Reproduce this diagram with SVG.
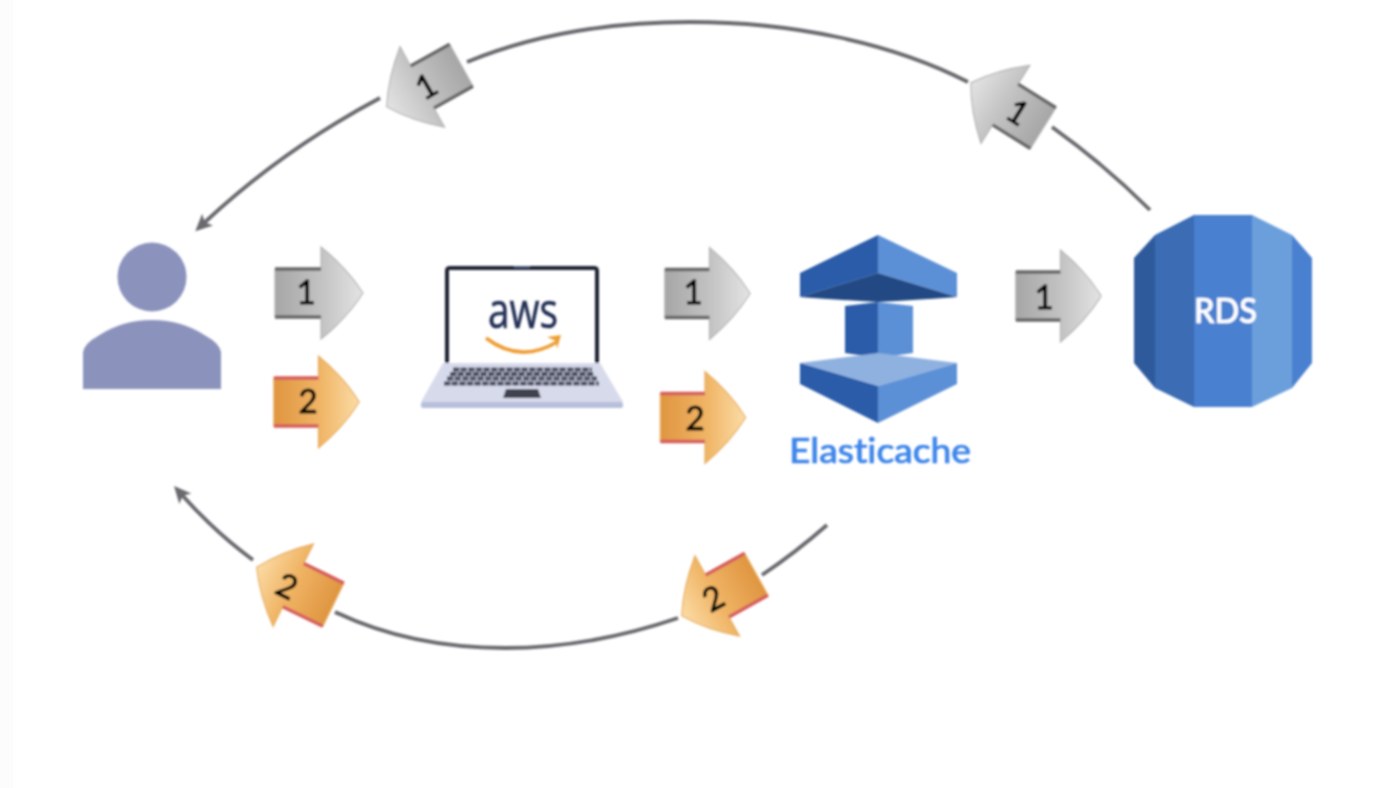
<svg xmlns="http://www.w3.org/2000/svg" xmlns:xlink="http://www.w3.org/1999/xlink" width="1386" height="788" viewBox="0 0 1386 788">
<style>
.conn{fill:none;stroke:#69696e;stroke-width:3.8}
.num{font-family:"Lato","Liberation Sans",sans-serif;font-size:33px;fill:#000;stroke:#000;stroke-width:.9;text-anchor:middle}
.lbl{font-family:"Lato","Liberation Sans",sans-serif;font-size:35px;font-weight:500;stroke-width:.7;text-anchor:middle;font-variant-ligatures:none}
.key{stroke:#45485a;stroke-width:4.2;stroke-dasharray:6.4 1.2;fill:none}
.eL{fill:#2c5ca9}.eR{fill:#5b90d6}
</style>
<defs>
<filter id="soft" x="-2%" y="-2%" width="104%" height="104%"><feGaussianBlur stdDeviation="0.8"/></filter>
<marker id="head" markerUnits="userSpaceOnUse" markerWidth="20" markerHeight="20" refX="5" refY="9" orient="auto"><path d="M0,1 L17,9 L0,17 L4,9 Z" fill="#69696e"/></marker>
<linearGradient id="gGray" gradientUnits="userSpaceOnUse" x1="-44" y1="0" x2="44" y2="0"><stop offset="0" stop-color="#a6a6a6"/><stop offset="0.55" stop-color="#c4c4c4"/><stop offset="1" stop-color="#e4e4e4"/></linearGradient>
<linearGradient id="gOrange" gradientUnits="userSpaceOnUse" x1="-44" y1="0" x2="44" y2="0"><stop offset="0" stop-color="#df9540"/><stop offset="0.55" stop-color="#f0b566"/><stop offset="1" stop-color="#fbdca6"/></linearGradient>
<path id="shape" d="M-44,-24 H2 V-46 Q28,-25 44,0 Q28,25 2,46 V24 H-44 Z"/>
<g id="arrowGray"><use xlink:href="#shape" href="#shape" fill="url(#gGray)" stroke="#b4b4b4" stroke-width="1.2"/><path d="M-44,-24 H2 M-44,24 H2" stroke="#666" stroke-width="3.4" fill="none"/></g>
<g id="arrowOrange"><use xlink:href="#shape" href="#shape" fill="url(#gOrange)" stroke="#e8ae62" stroke-width="1.2"/><path d="M-44,-24 H2 M-44,24 H2" stroke="#d65c5c" stroke-width="3.4" fill="none"/></g>
</defs>
<rect width="1386" height="788" fill="#fff"/>
<rect width="13" height="788" fill="#fcfcfc"/>
<g filter="url(#soft)">
<g id="connectors">
<path class="conn" d="M380,98 Q282,150 204,223" marker-end="url(#head)"/>
<path class="conn" d="M467,62 C540,32 620,22 690,22 C790,22 890,42 968,82"/>
<path class="conn" d="M1052,127 Q1105,165 1150,210"/>
<path class="conn" d="M827,525 Q795,553 762,575"/>
<path class="conn" d="M678,618 Q590,648 505,648 Q410,648 335,612"/>
<path class="conn" d="M253,560 Q215,532 182,495" marker-end="url(#head)"/>
</g>
<g id="user" fill="#8b93bd">
<circle cx="152" cy="277" r="34.5"/>
<path d="M83,389 V352 Q85,343 98,336 Q122,320 152,320 Q182,320 206,336 Q219,343 221,352 V389 Z"/>
</g>
<g id="laptop">
<path d="M445,363 V271 Q445,266 450,266 H594 Q599,266 599,271 V363 H595 V270 H449 V363 Z" fill="#1f2430"/>
<path d="M514,267 H530" stroke="#4a5a78" stroke-width="2"/>
<path d="M443,363 H600 L623,402 H421 Z" fill="#d7daeb"/>
<rect x="421" y="402" width="202" height="6" rx="2" fill="#b7bfdb"/>
<path class="key" d="M453,369.500 H592"/>
<path class="key" d="M450,374 H594"/>
<path class="key" d="M447,378.500 H597"/>
<path class="key" d="M444,383.500 H599"/>
<path d="M506,389 H538 L541,398 H503 Z" fill="#3f4250"/>
<text x="523" y="328" font-family="'Open Sans','Noto Sans',sans-serif" font-size="49" font-weight="400" stroke="#232f54" stroke-width=".6" fill="#232f54" text-anchor="middle" textLength="70" lengthAdjust="spacingAndGlyphs">aws</text>
<path d="M486,338 Q520,364 557,342" fill="none" stroke="#ee9d34" stroke-width="3.6"/>
<path d="M547,337 L561,335 L557,349 L556,341 Z" fill="#ee9d34"/>
</g>
<g id="elasticache">
<polygon class="eL" points="878,235 800,273 800,297 878,273"/>
<polygon class="eR" points="878,235 957,273 957,297 878,273"/>
<path d="M800,297 L878,273 L957,297 Q915,300 878,302 Q840,300 800,297 Z" fill="#214a84"/>
<polygon class="eL" points="845,306 878,302 878,358 845,353"/>
<polygon class="eR" points="878,302 913,306 913,353 878,358"/>
<polygon points="800,363 878,353 957,363 878,386" fill="#8fb1e0"/>
<polygon class="eL" points="800,363 878,386 878,423 800,384"/>
<polygon class="eR" points="957,363 878,386 878,423 957,384"/>
<text class="lbl" x="880" y="463" fill="#3f86ea" stroke="#3f86ea" textLength="182" lengthAdjust="spacingAndGlyphs">Elasticache</text>
</g>
<g id="rds">
<clipPath id="rdsClip"><polygon points="1194,215 1252,215 1292,235 1312,258 1312,363 1292,388 1252,407 1194,407 1155,388 1134,363 1134,258 1155,235"/></clipPath>
<g clip-path="url(#rdsClip)">
<rect x="1134" y="215" width="21" height="192" fill="#2d5a9c"/>
<rect x="1155" y="215" width="39" height="192" fill="#3a6cb4"/>
<rect x="1194" y="215" width="58" height="192" fill="#4a80d0"/>
<rect x="1252" y="215" width="40" height="192" fill="#6a9fdc"/>
<rect x="1292" y="215" width="20" height="192" fill="#4a80d0"/>
</g>
<text class="lbl" x="1225.500" y="323" fill="#fff" stroke="#fff" textLength="63" lengthAdjust="spacingAndGlyphs">RDS</text>
</g>
<g id="step-user-app-1"><use xlink:href="#arrowGray" href="#arrowGray" transform="translate(319,293)"/><text class="num" x="306" y="304">1</text></g>
<g id="step-app-cache-1"><use xlink:href="#arrowGray" href="#arrowGray" transform="translate(707.500,293.500) scale(.97,1)"/><text class="num" x="693" y="304">1</text></g>
<g id="step-cache-rds-1"><use xlink:href="#arrowGray" href="#arrowGray" transform="translate(1058.500,296) scale(.97,1)"/><text class="num" x="1044" y="309">1</text></g>
<g id="step-user-app-2"><use xlink:href="#arrowOrange" href="#arrowOrange" transform="translate(316.500,402) scale(.97,1)"/><text class="num" x="308" y="413">2</text></g>
<g id="step-app-cache-2"><use xlink:href="#arrowOrange" href="#arrowOrange" transform="translate(703,417.500) scale(.97,1)"/><text class="num" x="695" y="430">2</text></g>
<g id="step-rds-app-1"><use xlink:href="#arrowGray" href="#arrowGray" transform="translate(1007,105.500) rotate(212) scale(.97,1)"/><text class="num" transform="translate(1018,112) rotate(32)" y="12">1</text></g>
<g id="step-app-user-1"><use xlink:href="#arrowGray" href="#arrowGray" transform="translate(424,86) rotate(151) scale(.97,1)"/><text class="num" transform="translate(426,86) rotate(-30)" y="12">1</text></g>
<g id="step-cache-app-2"><use xlink:href="#arrowOrange" href="#arrowOrange" transform="translate(719,595) rotate(151) scale(.97,1)"/><text class="num" transform="translate(713,598) rotate(-29)" y="12">2</text></g>
<g id="step-app-user-2"><use xlink:href="#arrowOrange" href="#arrowOrange" transform="translate(295,586) rotate(206) scale(.97,1)"/><text class="num" transform="translate(287,586) rotate(26)" y="12">2</text></g>
</g>
</svg>
